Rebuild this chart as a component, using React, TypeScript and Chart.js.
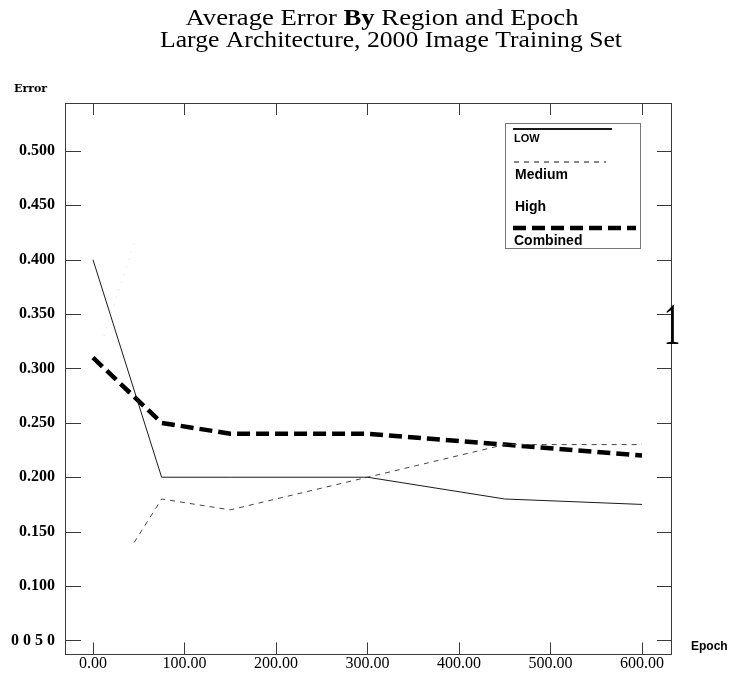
import { useEffect, useRef } from 'react';
import { Chart, registerables } from 'chart.js';

Chart.register(...registerables);

const titleLine1Parts = [
  { text: 'Average Error ', bold: false },
  { text: 'By', bold: true },
  { text: ' Region and Epoch', bold: false },
];
const titleLine2 = 'Large Architecture, 2000 Image Training Set';
const yAxisTitle = 'Error';
const xAxisTitle = 'Epoch';
const strayMark = '1';

const epochs = [0, 75, 150, 300, 450, 600];
const lowError = [0.4, 0.2, 0.2, 0.2, 0.18, 0.175];
const mediumEpochs = [45, 75, 150, 300, 450, 600];
const mediumError = [0.14, 0.18, 0.17, 0.2, 0.23, 0.23];
const highEpochs = [12, 45];
const highError = [0.33, 0.415];
const combinedError = [0.31, 0.25, 0.24, 0.24, 0.23, 0.22];

const xTickValues = [0, 100, 200, 300, 400, 500, 600];
const xTickLabels = ['0.00', '100.00', '200.00', '300.00', '400.00', '500.00', '600.00'];
const yTickValues = [0.05, 0.1, 0.15, 0.2, 0.25, 0.3, 0.35, 0.4, 0.45, 0.5];
const yTickLabels = ['0 0 5 0', '0.100', '0.150', '0.200', '0.250', '0.300', '0.350', '0.400', '0.450', '0.500'];

const seriesLabels = ['LOW', 'Medium', 'High', 'Combined'];

function pts(xs: number[], ys: number[]) {
  return xs.map((x, i) => ({ x, y: ys[i] }));
}

const decorPlugin = {
  id: 'decor',
  afterDraw(chart: any) {
    const { ctx, chartArea: a, scales } = chart;
    const x = scales.x;
    const y = scales.y;
    ctx.save();
    // frame
    ctx.strokeStyle = '#3a3a3a';
    ctx.lineWidth = 1;
    ctx.setLineDash([]);
    ctx.strokeRect(Math.round(a.left) + 0.5, Math.round(a.top) + 0.5, Math.round(a.right - a.left), Math.round(a.bottom - a.top));
    // inward ticks
    ctx.beginPath();
    y.ticks.forEach((t: any) => {
      const py = Math.round(y.getPixelForValue(t.value)) + 0.5;
      ctx.moveTo(a.left, py);
      ctx.lineTo(a.left + 16, py);
      ctx.moveTo(a.right, py);
      ctx.lineTo(a.right - 14, py);
    });
    x.ticks.forEach((t: any) => {
      const px = Math.round(x.getPixelForValue(t.value)) + 0.5;
      ctx.moveTo(px, a.bottom);
      ctx.lineTo(px, a.bottom - 12);
      ctx.moveTo(px, a.top);
      ctx.lineTo(px, a.top + 12);
    });
    ctx.stroke();

    // title
    ctx.fillStyle = '#000';
    ctx.textBaseline = 'alphabetic';
    ctx.textAlign = 'left';
    const fontN = '24px "Liberation Serif"';
    const fontB = 'bold 24px "Liberation Serif"';
    let w1 = 0;
    titleLine1Parts.forEach((p) => {
      ctx.font = p.bold ? fontB : fontN;
      w1 += ctx.measureText(p.text).width;
    });
    const s1 = 393 / w1;
    ctx.save();
    ctx.translate(382 - 393 / 2, 25);
    ctx.scale(s1, 1);
    let cx = 0;
    titleLine1Parts.forEach((p) => {
      ctx.font = p.bold ? fontB : fontN;
      ctx.fillText(p.text, cx, 0);
      cx += ctx.measureText(p.text).width;
    });
    ctx.restore();
    ctx.font = fontN;
    const w2 = ctx.measureText(titleLine2).width;
    ctx.save();
    ctx.translate(391 - 462 / 2, 47);
    ctx.scale(462 / w2, 1);
    ctx.fillText(titleLine2, 0, 0);
    ctx.restore();

    // axis titles
    ctx.font = 'bold 11px "DejaVu Serif"';
    ctx.fillText(yAxisTitle, 14, 92);
    ctx.font = 'bold 12px "Liberation Sans"';
    ctx.fillText(xAxisTitle, 691, 650);

    // stray mark
    ctx.save();
    ctx.font = '60px "Liberation Serif"';
    ctx.textAlign = 'center';
    ctx.translate(672, 344);
    ctx.scale(0.55, 1);
    ctx.fillText(strayMark, 0, 0);
    ctx.restore();

    // legend
    const bx = 505, by = 123, bw = 135, bh = 125;
    ctx.fillStyle = '#fff';
    ctx.fillRect(bx, by, bw, bh);
    ctx.strokeStyle = '#777';
    ctx.lineWidth = 1;
    ctx.setLineDash([]);
    ctx.strokeRect(bx + 0.5, by + 0.5, bw, bh);
    const rows = [
      { lineY: 129, x1: 513, x2: 612, textY: 142, font: 'bold 11px "Liberation Sans"' },
      { lineY: 162, x1: 514, x2: 606, textY: 179, font: 'bold 14px "Liberation Sans"' },
      { lineY: 195, x1: 514, x2: 514, textY: 211, font: 'bold 14px "Liberation Sans"' },
      { lineY: 228, x1: 513, x2: 636, textY: 245, font: 'bold 14px "Liberation Sans"' },
    ];
    chart.data.datasets.forEach((ds: any, i: number) => {
      const r = rows[i];
      if (r.x2 > r.x1) {
        ctx.beginPath();
        ctx.strokeStyle = i === 1 ? '#111' : ds.borderColor;
        ctx.lineWidth = i === 0 ? 2 : ds.borderWidth;
        ctx.setLineDash(ds.borderDash || []);
        ctx.moveTo(r.x1, r.lineY);
        ctx.lineTo(r.x2, r.lineY);
        ctx.stroke();
      }
      ctx.setLineDash([]);
      ctx.fillStyle = '#000';
      ctx.font = r.font;
      ctx.fillText(ds.label, r.x1 + 1, r.textY);
    });
    ctx.restore();
  },
};

export default function App() {
  const ref = useRef<HTMLCanvasElement | null>(null);
  useEffect(() => {
    if (!ref.current) return;
    const chart = new Chart(ref.current, {
      type: 'line',
      data: {
        datasets: [
          {
            label: seriesLabels[0],
            data: pts(epochs, lowError),
            borderColor: '#1a1a1a',
            borderWidth: 1,
            pointRadius: 0,
            tension: 0,
          },
          {
            label: seriesLabels[1],
            data: pts(mediumEpochs, mediumError),
            borderColor: '#444',
            borderWidth: 1,
            borderDash: [5, 5],
            pointRadius: 0,
            tension: 0,
          },
          {
            label: seriesLabels[2],
            data: pts(highEpochs, highError),
            borderColor: 'rgba(0,0,0,0.15)',
            borderWidth: 1,
            borderDash: [1, 7],
            pointRadius: 0,
            tension: 0,
          },
          {
            label: seriesLabels[3],
            data: pts(epochs, combinedError),
            borderColor: '#000',
            borderWidth: 4.5,
            borderDash: [13, 6],
            pointRadius: 0,
            tension: 0,
          },
        ],
      },
      options: {
        animation: false,
        responsive: false,
        devicePixelRatio: 1,
        layout: { padding: { top: 103, right: 64, left: 0, bottom: 0 } },
        plugins: {
          legend: { display: false },
          title: { display: false },
          tooltip: { enabled: false },
        },
        scales: {
          x: {
            type: 'linear',
            min: -30.6,
            max: 631.7,
            afterBuildTicks: (s: any) => {
              s.ticks = xTickValues.map((v) => ({ value: v }));
            },
            afterFit: (s: any) => {
              s.height = 19;
            },
            ticks: {
              callback: (_v: any, i: number) => xTickLabels[i],
              font: { family: '"Liberation Serif"', size: 16 },
              color: '#000',
              padding: 0,
              maxRotation: 0,
              autoSkip: false,
            },
            grid: { display: false, drawTicks: false },
            border: { display: false },
          },
          y: {
            type: 'linear',
            min: 0.0371,
            max: 0.5441,
            afterBuildTicks: (s: any) => {
              s.ticks = yTickValues.map((v) => ({ value: v }));
            },
            afterFit: (s: any) => {
              s.width = 65;
            },
            ticks: {
              callback: (_v: any, i: number) => yTickLabels[i],
              font: { family: '"Liberation Serif"', size: 16, weight: 'bold' },
              color: '#000',
              padding: 10,
              autoSkip: false,
            },
            grid: { display: false, drawTicks: false },
            border: { display: false },
          },
        },
      },
      plugins: [decorPlugin],
    });
    return () => chart.destroy();
  }, []);
  return (
    <div style={{ position: 'fixed', left: 0, top: 0, width: 735, height: 674, background: '#fff' }}>
      <canvas ref={ref} width={735} height={674} style={{ display: 'block' }} />
    </div>
  );
}
